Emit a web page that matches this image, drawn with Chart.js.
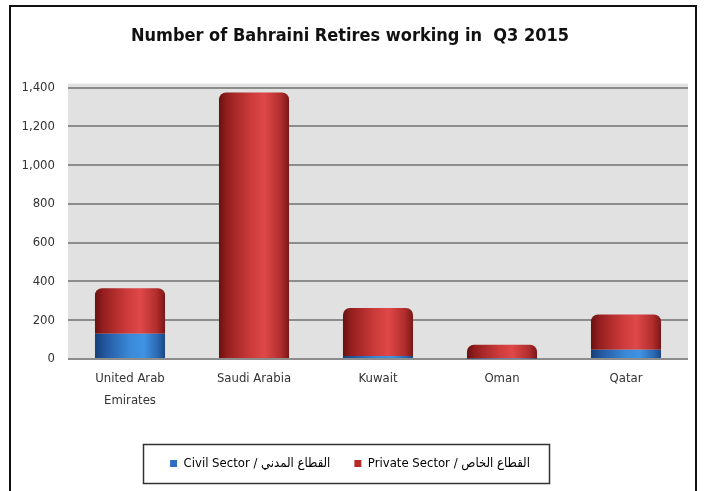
<!DOCTYPE html>
<html>
<head>
<meta charset="utf-8">
<script src="https://cdn.jsdelivr.net/npm/chart.js@4/dist/chart.umd.min.js"></script>
<style>
  html, body { margin: 0; padding: 0; background: #fff; }
  #wrap { position: absolute; left: 0; top: 0; width: 704px; height: 491px; }
  #frame { position: absolute; left: 9px; top: 5px; width: 688px; height: 490px; border: 2px solid #111; box-sizing: border-box; pointer-events: none; }
</style>
</head>
<body>
<div id="wrap">
  <canvas id="c" width="704" height="491"></canvas>
  <div id="frame"></div>
</div>
<script>
const categories = [["United Arab", "Emirates"], "Saudi Arabia", "Kuwait", "Oman", "Qatar"];
const civilSector = [130, 0, 15, 2, 48];
const privateSector = [235, 1375, 248, 72, 182];
const seriesNames = ["Civil Sector / القطاع المدني", "Private Sector / القطاع الخاص"];
const yTicks = [0, 200, 400, 600, 800, 1000, 1200, 1400];

const FONT = "'Liberation Sans Narrow', 'DejaVu Sans Condensed', 'Open Sans', sans-serif";

function cylGradient(ctx, stops, fallback) {
  const chart = ctx.chart;
  if (!chart.chartArea || !chart.scales.x) return fallback;
  const xs = chart.scales.x;
  const cx = xs.getPixelForValue(ctx.dataIndex);
  const w = (xs.width / categories.length) * 0.565;
  const g = chart.ctx.createLinearGradient(cx - w / 2, 0, cx + w / 2, 0);
  stops.forEach(s => g.addColorStop(s[0], s[1]));
  return g;
}
const redStops = [[0, '#6a1111'], [0.12, '#961f1f'], [0.45, '#cc3a3a'], [0.65, '#de4848'], [0.88, '#b22d2d'], [1, '#7a1717']];
const blueStops = [[0, '#173f78'], [0.15, '#2358a0'], [0.5, '#3a8ad8'], [0.7, '#3f93e2'], [0.9, '#2a66b0'], [1, '#1a4786']];

const plotBg = {
  id: 'plotBg',
  beforeDraw(chart) {
    const { ctx, chartArea: a } = chart;
    ctx.save();
    ctx.fillStyle = '#e1e1e1';
    ctx.fillRect(a.left, a.top - 4, a.right - a.left, a.bottom - a.top + 4);
    ctx.restore();
  }
};
const legendBox = {
  id: 'legendBox',
  afterDraw(chart) {
    const lg = chart.legend;
    if (!lg || !lg.legendHitBoxes || !lg.legendHitBoxes.length) return;
    const hb = lg.legendHitBoxes;
    let l = Infinity, r = -Infinity, t = Infinity, b = -Infinity;
    hb.forEach(h => { l = Math.min(l, h.left); r = Math.max(r, h.left + h.width); t = Math.min(t, h.top); b = Math.max(b, h.top + h.height); });
    const ctx = chart.ctx;
    ctx.save();
    ctx.strokeStyle = '#333';
    ctx.lineWidth = 1.5;
    ctx.strokeRect(Math.round(l - 27) + 0.5, Math.round(t - 13) + 0.5, Math.round(r - l + 46), Math.round(b - t + 26));
    ctx.restore();
  }
};

new Chart(document.getElementById('c'), {
  type: 'bar',
  data: {
    labels: categories,
    datasets: [
      {
        label: seriesNames[0],
        data: civilSector,
        backgroundColor: (ctx) => cylGradient(ctx, blueStops, '#2f78c8'),
        borderWidth: 0,
        borderRadius: 0,
        categoryPercentage: 1,
        barPercentage: 0.565
      },
      {
        label: seriesNames[1],
        data: privateSector,
        backgroundColor: (ctx) => cylGradient(ctx, redStops, '#c0392b'),
        borderWidth: 0,
        borderRadius: { topLeft: 7, topRight: 7, bottomLeft: 0, bottomRight: 0 },
        borderSkipped: 'bottom',
        categoryPercentage: 1,
        barPercentage: 0.565
      }
    ]
  },
  options: {
    responsive: false,
    animation: false,
    devicePixelRatio: 1,
    layout: { padding: { left: 12, right: 16, top: 0, bottom: 11 } },
    plugins: {
      title: {
        display: true,
        text: 'Number of Bahraini Retires working in  Q3 2015',
        color: '#111',
        font: { family: FONT, size: 18, weight: 'bold' },
        padding: { top: 26, bottom: 40 }
      },
      legend: {
        position: 'bottom',
        labels: {
          color: '#222',
          font: { family: FONT, size: 13 },
          boxWidth: 7,
          boxHeight: 7,
          padding: 24,
          generateLabels(chart) {
            const cols = ['#2f6fbf', '#b82a2a'];
            return chart.data.datasets.map((d, i) => ({
              text: d.label,
              fillStyle: cols[i],
              strokeStyle: cols[i],
              lineWidth: 0,
              hidden: false,
              datasetIndex: i
            }));
          }
        }
      },
      tooltip: { enabled: false }
    },
    scales: {
      x: {
        stacked: true,
        grid: { display: false, drawTicks: false },
        border: { display: false },
        ticks: {
          color: '#333',
          font: { family: FONT, size: 13, lineHeight: 1.65 },
          padding: 9,
          maxRotation: 0
        },
        afterFit(s) { s.height = 74; }
      },
      y: {
        stacked: true,
        min: 0,
        max: 1400,
        afterBuildTicks(s) { s.ticks = yTicks.map(v => ({ value: v })); },
        grid: { color: '#8c8c8c', lineWidth: 2, drawTicks: false },
        border: { display: false },
        ticks: {
          color: '#333',
          font: { family: FONT, size: 13 },
          padding: 13,
          callback: (v) => Number(v).toLocaleString('en-US')
        },
        afterFit(s) { s.width = 56; }
      }
    }
  },
  plugins: [plotBg, legendBox]
});
</script>
</body>
</html>
